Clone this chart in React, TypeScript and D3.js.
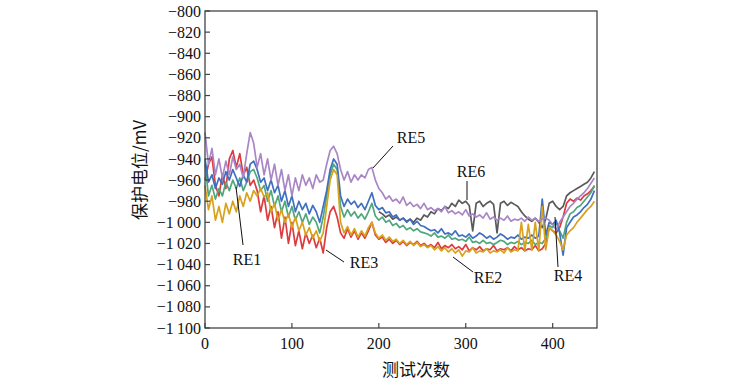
import React from "react";
import * as d3 from "d3";

const STEP = 4;
const xTicks = [0, 100, 200, 300, 400];
const yTicks = [-800, -820, -840, -860, -880, -900, -920, -940, -960, -980, -1000, -1020, -1040, -1060, -1080, -1100];

const re4Blue = [-940,-962,-955,-968,-958,-964,-952,-960,-950,-958,-966,-955,-962,-945,-942,-950,-962,-958,-970,-960,-972,-965,-980,-970,-985,-975,-990,-980,-988,-982,-992,-984,-990,-1000,-985,-970,-950,-940,-945,-975,-985,-978,-983,-980,-986,-982,-988,-980,-972,-984,-988,-986,-991,-990,-995,-993,-998,-996,-1000,-997,-1002,-999,-1003,-1004,-1006,-1008,-1007,-1010,-1006,-1011,-1010,-1012,-1008,-1013,-1012,-1014,-1011,-1015,-1013,-1010,-1012,-1015,-1013,-1016,-1014,-1011,-1013,-1016,-1014,-1015,-1012,-1016,-1014,-1015,-1012,-1015,-1013,-978,-1012,-1000,-1002,-998,-1010,-1031,-1005,-1000,-995,-993,-990,-986,-983,-978,-970];
const re1Green = [-945,-975,-965,-978,-968,-975,-962,-970,-960,-968,-958,-970,-962,-952,-950,-958,-970,-965,-980,-970,-985,-975,-990,-980,-995,-985,-998,-990,-1000,-992,-1002,-995,-1000,-1010,-995,-975,-955,-945,-950,-985,-995,-988,-994,-990,-996,-992,-997,-990,-982,-994,-998,-995,-1000,-998,-1003,-1001,-1005,-1003,-1007,-1005,-1008,-1006,-1009,-1010,-1011,-1013,-1010,-1014,-1013,-1015,-1012,-1016,-1015,-1017,-1016,-1018,-1014,-1019,-1018,-1020,-1017,-1020,-1019,-1021,-1019,-1017,-1018,-1021,-1019,-1020,-1018,-1021,-1019,-1020,-1017,-1021,-1019,-1020,-1015,-1003,-1005,-1000,-1008,-1015,-1000,-992,-990,-986,-984,-980,-976,-972,-965];
const re3Red = [-960,-945,-938,-965,-975,-955,-968,-940,-932,-948,-935,-955,-948,-965,-960,-970,-990,-975,-998,-985,-1005,-990,-1015,-995,-1020,-1000,-1022,-1008,-1025,-1010,-1020,-1012,-1024,-1015,-1029,-1005,-990,-985,-995,-1010,-1015,-1006,-1014,-1008,-1016,-1010,-1015,-1008,-1000,-1012,-1016,-1014,-1019,-1016,-1020,-1017,-1021,-1018,-1022,-1019,-1021,-1018,-1022,-1020,-1023,-1021,-1024,-1019,-1025,-1022,-1024,-1021,-1025,-1023,-1026,-1021,-1027,-1024,-1026,-1023,-1027,-1025,-1026,-1022,-1027,-1025,-1026,-1024,-1027,-1023,-1026,-1024,-1027,-1025,-1026,-1022,-1027,-1025,-1020,-1005,-1008,-1010,-1005,-995,-982,-978,-980,-977,-979,-975,-973,-970,-966];
const re2Orange = [-965,-988,-975,-998,-985,-1000,-982,-992,-980,-990,-975,-985,-972,-980,-970,-975,-968,-976,-972,-990,-982,-998,-988,-1000,-992,-1005,-995,-1008,-1000,-1012,-1005,-1015,-1008,-1018,-1010,-985,-960,-950,-955,-1000,-1010,-1004,-1012,-1006,-1014,-1008,-1013,-1005,-1000,-1010,-1015,-1012,-1017,-1014,-1018,-1016,-1020,-1017,-1021,-1018,-1022,-1019,-1023,-1021,-1024,-1022,-1026,-1023,-1027,-1024,-1028,-1025,-1029,-1026,-1032,-1027,-1028,-1024,-1029,-1027,-1028,-1025,-1029,-1027,-1028,-1026,-1029,-1024,-1028,-1026,-1027,-1000,-1027,-1002,-1026,-1000,-1027,-985,-1026,-1005,-1008,-1012,-1018,-1026,-1012,-1008,-1005,-1000,-996,-992,-988,-985,-980];
const re5Purple = [-915,-945,-930,-955,-940,-958,-942,-955,-938,-950,-945,-958,-935,-915,-925,-948,-935,-955,-940,-960,-945,-965,-950,-970,-955,-975,-958,-970,-955,-965,-958,-968,-955,-962,-960,-945,-932,-928,-935,-950,-960,-952,-962,-955,-960,-955,-958,-950,-948,-960,-968,-972,-978,-975,-980,-978,-982,-976,-984,-981,-985,-983,-987,-982,-988,-986,-989,-987,-990,-985,-991,-989,-992,-990,-993,-988,-994,-992,-995,-993,-996,-991,-997,-995,-998,-996,-998,-994,-999,-997,-998,-996,-999,-995,-998,-996,-999,-997,-996,-998,-1002,-1007,-1000,-995,-990,-985,-982,-978,-975,-972,-968,-963,-958];
const re6Start = 200;
const re6Gray = [-990,-992,-995,-993,-997,-995,-998,-996,-999,-997,-1000,-996,-998,-993,-995,-990,-992,-987,-989,-985,-987,-982,-985,-979,-982,-980,-984,-1008,-982,-980,-985,-982,-980,-983,-1010,-982,-980,-984,-981,-983,-985,-990,-994,-997,-999,-996,-1000,-1005,-997,-982,-980,-985,-988,-985,-975,-972,-970,-968,-966,-964,-962,-958,-952];

const labels = [
  { text: "RE1", tx: 247, ty: 265, x1: 243, y1: 245, x2: 236, y2: 187 },
  { text: "RE3", tx: 364, ty: 268, x1: 344, y1: 262, x2: 326, y2: 250 },
  { text: "RE5", tx: 411, ty: 143, x1: 393, y1: 146, x2: 373, y2: 168 },
  { text: "RE6", tx: 471, ty: 177, x1: 467, y1: 181, x2: 467, y2: 200 },
  { text: "RE2", tx: 488, ty: 283, x1: 473, y1: 272, x2: 453, y2: 257 },
  { text: "RE4", tx: 568, ty: 281, x1: 558, y1: 267, x2: 555, y2: 217 },
];

export default function App() {
  const W = 735, H = 383;
  const left = 205, right = 597, top = 11, bottom = 328;
  const x = d3.scaleLinear().domain([0, 451]).range([left, right]);
  const y = d3.scaleLinear().domain([-800, -1100]).range([top, bottom]);
  const line = d3.line<[number, number]>().x(d => x(d[0])).y(d => y(d[1]));
  const toPts = (arr: number[], start = 0): [number, number][] => arr.map((v, i) => [start + i * STEP, v]);

  const series = [
    { data: toPts(re6Gray, re6Start), color: "#5a5a5a" },
    { data: toPts(re3Red), color: "#dc3b3f" },
    { data: toPts(re1Green), color: "#4fa77c" },
    { data: toPts(re4Blue), color: "#3f6fc0" },
    { data: toPts(re2Orange), color: "#d8a21c" },
    { data: toPts(re5Purple), color: "#a987c6" },
  ];
  const serif = "Times New Roman, Liberation Serif, serif";
  const fmt = (v: number) => {
    const a = Math.abs(v);
    const s = a >= 1000 ? `${Math.floor(a / 1000)}\u2009${String(a % 1000).padStart(3, "0")}` : String(a);
    return (v < 0 ? "\u2212" : "") + s;
  };

  return (
    <svg width={W} height={H} style={{ position: "absolute", left: 0, top: 0, background: "#fff" }}>
      <g fill="none" strokeWidth={1.7} strokeLinejoin="round">
        {series.map((s, i) => (
          <path key={i} d={line(s.data) || ""} stroke={s.color} />
        ))}
      </g>
      <rect x={left} y={top} width={right - left} height={bottom - top} fill="none" stroke="#444" strokeWidth={1.3} />
      <g style={{ fontFamily: serif }} fontSize={16} fill="#111">
        {yTicks.map(t => (
          <g key={t}>
            <line x1={left} x2={left + 5} y1={y(t)} y2={y(t)} stroke="#444" strokeWidth={1.2} />
            <text x={left - 4} y={y(t)} dy="0.35em" textAnchor="end">{fmt(t)}</text>
          </g>
        ))}
        {xTicks.map(t => (
          <g key={t}>
            <line x1={x(t)} x2={x(t)} y1={bottom} y2={bottom - 5} stroke="#444" strokeWidth={1.2} />
            <text x={x(t)} y={bottom + 21} textAnchor="middle">{t}</text>
          </g>
        ))}
        {labels.map(l => (
          <g key={l.text}>
            <line x1={l.x1} y1={l.y1} x2={l.x2} y2={l.y2} stroke="#111" strokeWidth={1} />
            <text x={l.tx} y={l.ty} textAnchor="middle">{l.text}</text>
          </g>
        ))}
      </g>
      <text x={416} y={376} textAnchor="middle" style={{ fontFamily: "Noto Sans CJK SC, sans-serif" }} fontSize={17} fill="#111">测试次数</text>
      <text transform={`translate(146,170) rotate(-90)`} textAnchor="middle" style={{ fontFamily: "Noto Sans CJK SC, sans-serif" }} fontSize={17} fill="#111">保护电位/mV</text>
    </svg>
  );
}
